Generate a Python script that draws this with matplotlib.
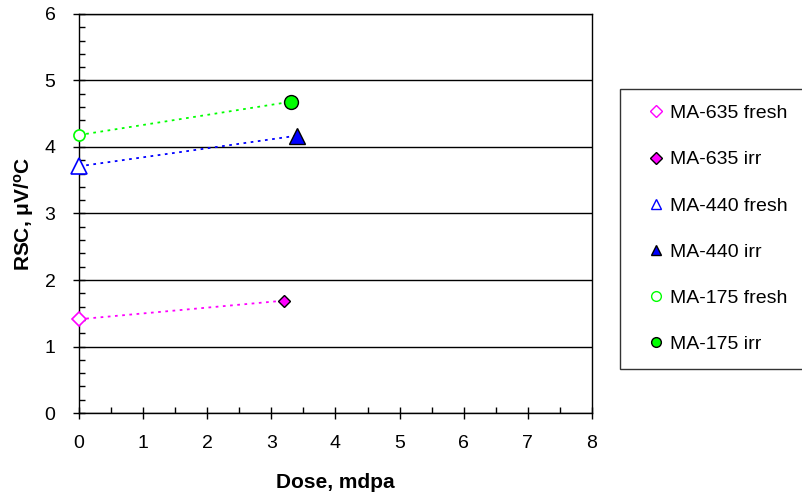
import matplotlib
matplotlib.use("Agg")
import matplotlib.pyplot as plt
from matplotlib.ticker import MultipleLocator

plt.rcParams['font.family'] = ['Liberation Sans', 'DejaVu Sans']
plt.rcParams['mathtext.fontset'] = 'custom'
plt.rcParams['mathtext.rm'] = 'Liberation Sans'
plt.rcParams['mathtext.bf'] = 'Liberation Sans:bold'
plt.rcParams['mathtext.it'] = 'Liberation Sans:italic'

series_names = ["MA-635", "MA-440", "MA-175"]
fresh_dose = [0.0, 0.0, 0.0]
fresh_rsc = [1.41, 3.71, 4.18]
irr_dose = [3.2, 3.4, 3.3]
irr_rsc = [1.69, 4.17, 4.68]
colors = ["#FF00FF", "#0000FF", "#00FF00"]
markers = ["D", "^", "o"]
fresh_sizes = [7, 11, 8]
irr_sizes = [6.5, 11, 10]

fig = plt.figure(figsize=(8.03, 4.99), dpi=100)
ax = fig.add_axes([0.0984, 0.1723, 0.6388, 0.7997])

for name, fx, fy, ix, iy, c, m, fs, isz in zip(series_names, fresh_dose, fresh_rsc,
                                               irr_dose, irr_rsc, colors, markers,
                                               fresh_sizes, irr_sizes):
    ax.plot([fx, ix], [fy, iy], linestyle=(0, (1.5, 2.5)), color=c, lw=1.3, zorder=2)
    ax.plot([fx], [fy], linestyle='none', marker=m, markersize=fs,
            markerfacecolor='white', markeredgecolor=c, markeredgewidth=1.2,
            zorder=3, clip_on=False)
    ax.plot([ix], [iy], linestyle='none', marker=m, markersize=isz,
            markerfacecolor=c, markeredgecolor='black', markeredgewidth=1.0,
            zorder=3, clip_on=False)

ax.set_xlim(0, 8)
ax.set_ylim(0, 6)
ax.xaxis.set_major_locator(MultipleLocator(1))
ax.xaxis.set_minor_locator(MultipleLocator(0.5))
ax.yaxis.set_major_locator(MultipleLocator(1))
ax.yaxis.set_minor_locator(MultipleLocator(0.2))
ax.tick_params(axis='both', which='major', direction='inout', length=8, width=1,
               labelsize=14)
ax.tick_params(axis='x', which='minor', direction='in', length=4, width=1)
ax.tick_params(axis='y', which='minor', direction='in', length=4, width=1)
ax.tick_params(axis='x', which='major', pad=12)
ax.tick_params(axis='y', which='major', pad=13)
ax.yaxis.grid(True, which='major', color='black', lw=1)
ax.set_axisbelow(True)
for s in ax.spines.values():
    s.set_linewidth(1)
    s.set_color('black')

ax.set_xlabel("Dose, mdpa", fontsize=15, fontweight='bold', labelpad=15)
ax.set_ylabel(r"RSC, $\mathbf{\mu}$V/$^{\mathbf{o}}$C", fontsize=15, fontweight='bold', labelpad=6)

leg_handles = []
for name, c, m in zip(series_names, colors, markers):
    s = 7 if m != "D" else 6
    leg_handles.append(plt.Line2D([], [], linestyle='none', marker=m, markersize=s,
                                  markerfacecolor='white', markeredgecolor=c,
                                  markeredgewidth=1.0, label=f"{name} fresh"))
    leg_handles.append(plt.Line2D([], [], linestyle='none', marker=m, markersize=s,
                                  markerfacecolor=c, markeredgecolor='black',
                                  markeredgewidth=1.0, label=f"{name} irr"))

leg = fig.legend(handles=leg_handles, loc='upper left',
                 bbox_to_anchor=(620/803, 1 - 89/499), bbox_transform=fig.transFigure,
                 fontsize=14, frameon=True, fancybox=False, edgecolor='black',
                 handlelength=2.1, handletextpad=-0.33, labelspacing=1.47,
                 borderpad=0.8, borderaxespad=0)
leg.get_frame().set_linewidth(1)

fig.savefig("out.png", dpi=100)
